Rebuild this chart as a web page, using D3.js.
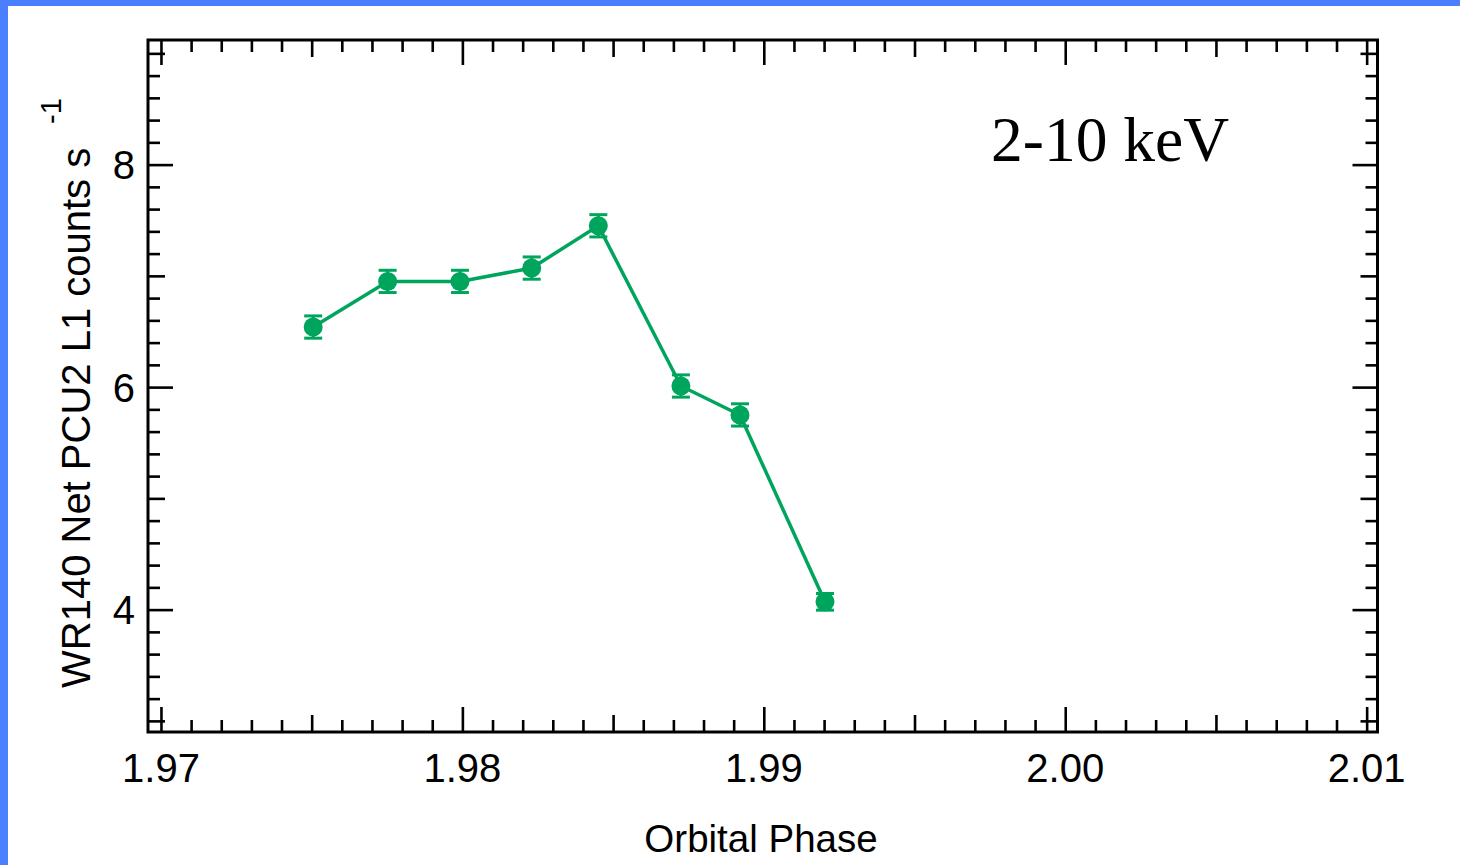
<!DOCTYPE html>
<html lang="en">
<head>
    <meta charset="UTF-8">
    <title>WR140 Light Curve</title>
    <script src="https://d3js.org/d3.v7.min.js"></script>
    <style>
        body {
            margin: 0;
            background-color: #fff;
        }
        svg text {
            font-family: "Liberation Sans", Arial, sans-serif;
            fill: #000;
        }
        .frame {
            fill: none;
            stroke: #000;
            stroke-width: 3px;
        }
        .axis path {
            display: none;
        }
        .axis line {
            stroke: #000;
            stroke-width: 2.6px;
        }
    </style>
</head>
<body>
    <svg id="chart" width="1460" height="865"></svg>
    <script>
// Orbital phase of each RXTE pointing
const phase = [1.97505, 1.97752, 1.97992, 1.9823, 1.98451, 1.98725, 1.98921, 1.99203];
// Net PCU2 layer-1 count rate (counts/s) and its 1-sigma error
const rate = [6.54, 6.95, 6.95, 7.07, 7.45, 6.01, 5.75, 4.07];
const rateErr = [0.10, 0.10, 0.10, 0.10, 0.10, 0.10, 0.10, 0.075];

// Labelled ticks
const xTickLabels = [1.97, 1.98, 1.99, 2.00, 2.01];
const yTickLabels = [4, 6, 8];

const width = 1460, height = 865;
const plot = { left: 148, right: 1377.5, top: 40, bottom: 732 };
const green = "#00a55d";

const svg = d3.select("#chart");

// blue slide border along the top and left edges
svg.append("rect").attr("x", 0).attr("y", 0).attr("width", width).attr("height", 6).attr("fill", "#4a7fff");
svg.append("rect").attr("x", 0).attr("y", 0).attr("width", 8).attr("height", height).attr("fill", "#4a7fff");

const x = d3.scaleLinear().domain([1.96957, 2.01036]).range([plot.left, plot.right]);
const y = d3.scaleLinear().domain([2.9, 9.12]).range([plot.bottom, plot.top]);

// minor ticks every 0.001 in phase, medium at 0.005, major at 0.01
const xTicks = d3.range(1970, 2011).map(k => k / 1000);
const xLen = d => {
    const k = Math.round(d * 1000);
    return k % 10 === 0 ? 25 : (k % 5 === 0 ? 17 : 12);
};
// minor ticks every 0.2 in rate, medium at odd integers, major at even integers
const yTicks = d3.range(30, 92, 2).map(k => k / 10);
const yLen = d => {
    const k = Math.round(d * 10);
    return k % 20 === 0 ? 25 : (k % 10 === 0 ? 17 : 12);
};

function drawAxis(axis, transform, lenFn, sign, attr) {
    const g = svg.append("g")
        .attr("class", "axis")
        .attr("transform", transform)
        .call(axis);
    g.selectAll(".tick line").attr(attr, d => sign * lenFn(d));
    g.selectAll(".tick text").remove();
    return g;
}

drawAxis(d3.axisBottom(x).tickValues(xTicks).tickSizeOuter(0), `translate(0,${plot.bottom})`, xLen, -1, "y2");
drawAxis(d3.axisTop(x).tickValues(xTicks).tickSizeOuter(0), `translate(0,${plot.top})`, xLen, 1, "y2");
drawAxis(d3.axisLeft(y).tickValues(yTicks).tickSizeOuter(0), `translate(${plot.left},0)`, yLen, 1, "x2");
drawAxis(d3.axisRight(y).tickValues(yTicks).tickSizeOuter(0), `translate(${plot.right},0)`, yLen, -1, "x2");

svg.append("rect")
    .attr("class", "frame")
    .attr("x", plot.left)
    .attr("y", plot.top)
    .attr("width", plot.right - plot.left)
    .attr("height", plot.bottom - plot.top);

// tick labels
svg.append("g").selectAll("text")
    .data(xTickLabels)
    .join("text")
    .attr("x", d => x(d))
    .attr("y", 782)
    .attr("text-anchor", "middle")
    .style("font-size", "40px")
    .text(d3.format(".2f"));

svg.append("g").selectAll("text")
    .data(yTickLabels)
    .join("text")
    .attr("x", 135)
    .attr("y", d => y(d))
    .attr("dy", "0.36em")
    .attr("text-anchor", "end")
    .style("font-size", "40px")
    .text(d => d);

// axis titles
svg.append("text")
    .attr("x", 761)
    .attr("y", 852)
    .attr("text-anchor", "middle")
    .style("font-size", "38.5px")
    .text("Orbital Phase");

svg.append("text")
    .attr("transform", "translate(90,688) rotate(-90)")
    .style("font-size", "40px")
    .text("WR140 Net PCU2 L1 counts s");

svg.append("text")
    .attr("transform", "translate(61,124) rotate(-90)")
    .style("font-size", "29px")
    .text("-1");

svg.append("text")
    .attr("x", 991)
    .attr("y", 161)
    .style("font-family", "'Liberation Serif', 'Times New Roman', serif")
    .style("font-size", "63.5px")
    .text("2-10 keV");

// light curve
const pts = phase.map((p, i) => ({ p: p, r: rate[i], e: rateErr[i] }));

svg.append("path")
    .datum(pts)
    .attr("fill", "none")
    .attr("stroke", green)
    .attr("stroke-width", 3.5)
    .attr("d", d3.line().x(d => x(d.p)).y(d => y(d.r)));

const bars = svg.append("g")
    .attr("stroke", green)
    .attr("stroke-width", 3)
    .selectAll("g")
    .data(pts)
    .join("g");

bars.append("line")
    .attr("x1", d => x(d.p)).attr("x2", d => x(d.p))
    .attr("y1", d => y(d.r - d.e)).attr("y2", d => y(d.r + d.e));
bars.append("line")
    .attr("x1", d => x(d.p) - 9).attr("x2", d => x(d.p) + 9)
    .attr("y1", d => y(d.r + d.e)).attr("y2", d => y(d.r + d.e));
bars.append("line")
    .attr("x1", d => x(d.p) - 9).attr("x2", d => x(d.p) + 9)
    .attr("y1", d => y(d.r - d.e)).attr("y2", d => y(d.r - d.e));

svg.append("g").selectAll("circle")
    .data(pts)
    .join("circle")
    .attr("cx", d => x(d.p))
    .attr("cy", d => y(d.r))
    .attr("r", 9.5)
    .attr("fill", green);
    </script>
</body>
</html>
